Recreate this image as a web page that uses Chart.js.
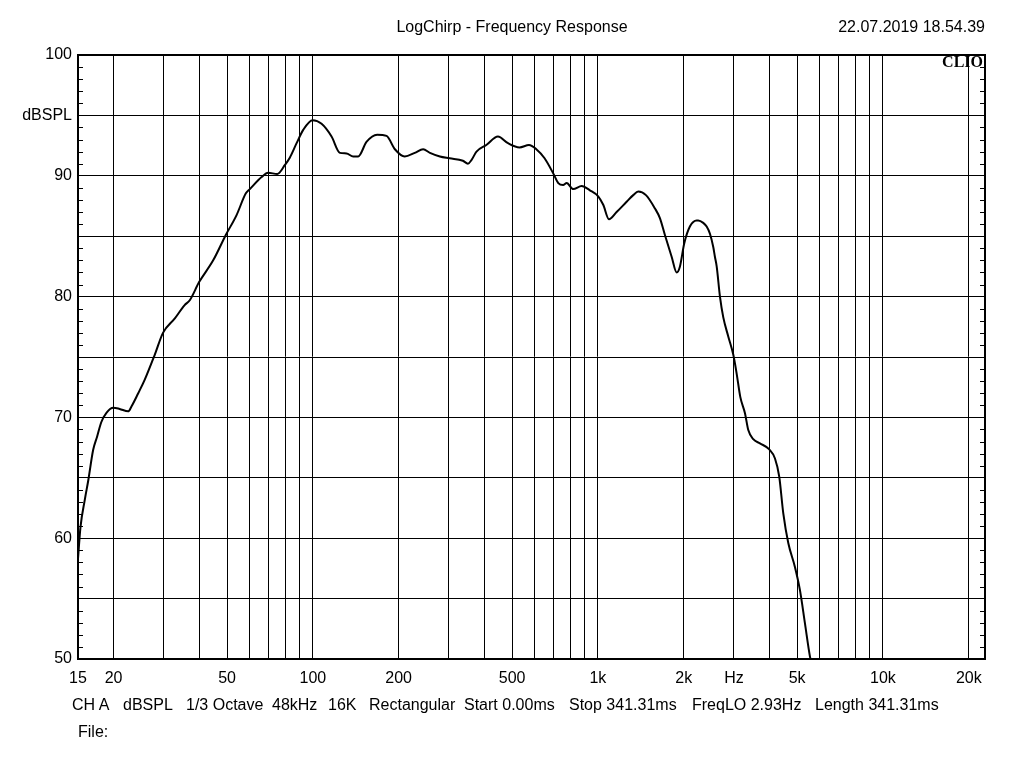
<!DOCTYPE html>
<html>
<head>
<meta charset="utf-8">
<script src="https://cdn.jsdelivr.net/npm/chart.js@4/dist/chart.umd.min.js"></script>
<style>
    body { margin: 0; background: #fff; font-family: "Liberation Sans", Arial, sans-serif; }
    #wrap { position: relative; width: 1024px; height: 768px; }
    .txt { position: absolute; font-size: 16px; color: #000; white-space: pre; line-height: 18px; }
    #title { left: 0; width: 1024px; top: 18px; text-align: center; }
    #date { right: 39px; top: 18px; }
    #clio { right: 41px; top: 53px; font-family: "Liberation Serif", "DejaVu Serif", serif; font-weight: bold; font-size: 16px; }
    #file { left: 78px; top: 723px; }
</style>
</head>
<body>
<div id="wrap">
    <canvas id="chart" width="1024" height="768"></canvas>
    <div class="txt" id="title">LogChirp - Frequency Response</div>
    <div class="txt" id="date">22.07.2019 18.54.39</div>
    <div class="txt" id="clio">CLIO</div>
    <div id="info"></div>
    <div class="txt" id="file">File:</div>
</div>
<script>
// measured response (Hz / dBSPL)
const freqs = [15, 15.3, 15.85, 16.3, 16.95, 17.5, 18.1, 18.9, 19.95, 21, 22.5, 23.1, 24.4, 25.7, 27.9, 29.8, 32.8, 35.5, 37, 39.9,
    44.7, 49.5, 54, 58.2, 60.1, 66.1, 69.7, 75, 79.8, 83, 87.7, 92.5, 99.8, 107.3, 116.3, 124.4, 131.3, 138.5, 144.2, 154.2,
    168.1, 181.3, 194, 210, 227.8, 243.7, 257.5, 279, 302, 336, 350, 360, 375, 406, 446, 483.6, 531, 573, 608, 650,
    697, 726, 755, 777, 819, 877, 937, 1002, 1044, 1093, 1163, 1261, 1330, 1385, 1474, 1585, 1650, 1718, 1814, 1889,
    1940, 2008, 2102, 2220, 2249, 2342, 2407, 2472, 2539, 2573, 2610, 2680, 2752, 2866, 2984, 3066, 3158, 3280, 3369, 3507,
    3702, 3992, 4180, 4326, 4470, 4654, 4913, 5114, 5325, 5545, 5570];
const spl = [58.3, 60.9, 63.2, 64.8, 67.3, 68.4, 69.6, 70.4, 70.8, 70.7, 70.5, 70.9, 72.0, 73.1, 75.2, 77.0, 78.2, 79.3, 79.7, 81.2,
    83.0, 85.1, 86.75, 88.55, 88.9, 89.9, 90.25, 90.15, 90.9, 91.5, 92.7, 93.8, 94.6, 94.3, 93.25, 91.9, 91.85, 91.6, 91.6, 92.8,
    93.4, 93.3, 92.2, 91.6, 91.9, 92.2, 91.9, 91.6, 91.45, 91.25, 91.0, 91.3, 92.0, 92.55, 93.25, 92.7, 92.35, 92.55, 92.2, 91.45,
    90.2, 89.4, 89.24, 89.4, 88.9, 89.15, 88.8, 88.3, 87.6, 86.4, 87.0, 87.85, 88.4, 88.7, 88.4, 87.3, 86.5, 85.1, 83.3, 82.0,
    82.5, 84.4, 85.8, 86.3, 86.3, 86.1, 85.8, 85.2, 84.1, 83.3, 82.5, 80.0, 78.3, 76.7, 75.2, 73.65, 71.7, 70.35, 68.95, 68.2,
    67.85, 67.35, 66.6, 65.1, 62.06, 59.6, 57.6, 55.7, 52.95, 50.2, 50.0];

// axis setup
const freqMin = 15, freqMax = 22800;
const splMin = 50, splMax = 100;
const gridFreqs = [15, 20, 30, 40, 50, 60, 70, 80, 90, 100, 200, 300, 400, 500, 600, 700, 800, 900,
    1000, 2000, 3000, 4000, 5000, 6000, 7000, 8000, 9000, 10000, 20000];
const freqLabels = { 15: '15', 20: '20', 50: '50', 100: '100', 200: '200', 500: '500', 1000: '1k',
    2000: '2k', 3000: 'Hz', 5000: '5k', 10000: '10k', 20000: '20k' };
const splLabels = { 100: '100', 95: 'dBSPL', 90: '90', 80: '80', 70: '70', 60: '60', 50: '50' };

// footer line: measurement settings, with their left x
const infoItems = ['CH A', 'dBSPL', '1/3 Octave', '48kHz', '16K', 'Rectangular', 'Start 0.00ms', 'Stop 341.31ms', 'FreqLO 2.93Hz', 'Length 341.31ms'];
const infoLeft = [72, 123, 186, 272, 328, 369, 464, 569, 692, 815];

const info = document.getElementById('info');
infoItems.forEach((t, i) => {
    const el = document.createElement('div');
    el.className = 'txt';
    el.style.left = infoLeft[i] + 'px';
    el.style.top = '696px';
    el.textContent = t;
    info.appendChild(el);
});

const FONT = { family: '"Liberation Sans", Arial, sans-serif', size: 16 };

// frame + small 1 dB ticks on both sides, like the CLIO plot
const framePlugin = {
    id: 'frame',
    afterDraw(chart) {
        const { ctx, chartArea: a, scales } = chart;
        ctx.save();
        ctx.strokeStyle = '#000';
        ctx.lineWidth = 1;
        ctx.beginPath();
        for (let v = splMin + 1; v < splMax; v++) {
            if (v % 5 === 0) continue;
            const y = Math.round(scales.y.getPixelForValue(v)) + 0.5;
            ctx.moveTo(a.left, y); ctx.lineTo(a.left + 5, y);
            ctx.moveTo(a.right, y); ctx.lineTo(a.right - 5, y);
        }
        ctx.stroke();
        ctx.lineWidth = 2;
        ctx.strokeRect(a.left, a.top, a.right - a.left, a.bottom - a.top);
        ctx.restore();
    }
};

new Chart(document.getElementById('chart'), {
    type: 'line',
    data: {
        datasets: [{
            data: freqs.map((f, i) => ({ x: f, y: spl[i] })),
            borderColor: '#000',
            borderWidth: 2,
            pointRadius: 0,
            cubicInterpolationMode: 'monotone',
            fill: false
        }]
    },
    options: {
        responsive: false,
        animation: false,
        layout: { padding: { top: 55, right: 39, left: 0, bottom: 0 } },
        plugins: { legend: { display: false }, tooltip: { enabled: false } },
        scales: {
            x: {
                type: 'logarithmic',
                min: freqMin,
                max: freqMax,
                afterBuildTicks: s => { s.ticks = gridFreqs.map(v => ({ value: v })); },
                afterFit: s => { s.height = 109; },
                grid: { color: '#000', lineWidth: 1, drawTicks: false },
                border: { color: '#000', width: 2 },
                ticks: {
                    autoSkip: false, maxRotation: 0, padding: 10, color: '#000', font: FONT,
                    callback: v => freqLabels[v] || ''
                }
            },
            y: {
                min: splMin,
                max: splMax,
                afterFit: s => { s.width = 78; },
                grid: { color: '#000', lineWidth: 1, drawTicks: false },
                border: { color: '#000', width: 2 },
                ticks: {
                    stepSize: 5, padding: 6, color: '#000', font: FONT,
                    callback: v => splLabels[v] || ''
                }
            }
        }
    },
    plugins: [framePlugin]
});
</script>
</body>
</html>
